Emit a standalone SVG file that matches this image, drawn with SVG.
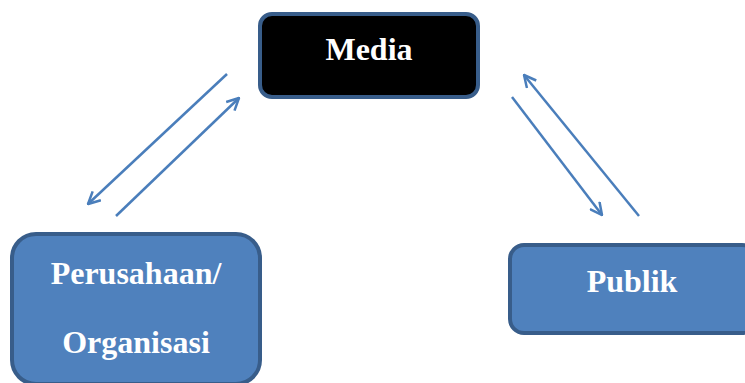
<svg xmlns="http://www.w3.org/2000/svg" width="745" height="383" viewBox="0 0 745 383">
<style>
.box{stroke:#385D8A;stroke-width:4}
.blue{fill:#4F81BD}
.lbl{font-family:"Liberation Serif","Times New Roman",serif;font-weight:bold;font-size:32px;fill:#fff;text-anchor:middle}
.con{stroke:#4A7EBB;stroke-width:2.5;fill:none;marker-end:url(#ah)}
</style>
<defs>
<marker id="ah" viewBox="0 0 14 14" refX="13" refY="7" markerWidth="14" markerHeight="14" markerUnits="userSpaceOnUse" orient="auto">
<path d="M1,1 L13,7 L1,13" fill="none" stroke="#4A7EBB" stroke-width="2.5"/>
</marker>
</defs>
<rect width="745" height="383" fill="#fff"/>
<g id="connectors">
<line class="con" x1="227" y1="74" x2="88" y2="204"/>
<line class="con" x1="116" y1="216" x2="239" y2="98"/>
<line class="con" x1="512" y1="97" x2="602" y2="215"/>
<line class="con" x1="639" y1="216" x2="524" y2="75"/>
</g>
<g id="media">
<rect class="box" x="260" y="14" width="218" height="83" rx="12" fill="#000"/>
<text class="lbl" x="369" y="60">Media</text>
</g>
<g id="perusahaan">
<rect class="box blue" x="12" y="234" width="248" height="150" rx="24"/>
<text class="lbl" x="136" y="284">Perusahaan/</text>
<text class="lbl" x="136" y="353">Organisasi</text>
</g>
<g id="publik">
<rect class="box blue" x="510" y="245" width="246" height="88" rx="14"/>
<text class="lbl" x="632" y="292">Publik</text>
</g>
</svg>
